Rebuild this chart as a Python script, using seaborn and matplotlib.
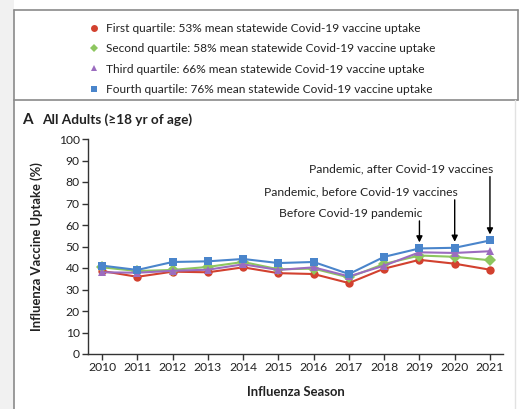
import matplotlib
matplotlib.use("Agg")
import matplotlib.pyplot as plt
import seaborn as sns
import pandas as pd
from matplotlib.lines import Line2D
from matplotlib.patches import Rectangle

FONT = ["Lato", "DejaVu Sans"]
FONT_SIZE_TICKS = 8.7
FONT_SIZE_LEGEND = 8.6
FONT_SIZE_LABEL = 9.4

seasons = list(range(2010, 2022))
first_q = [38.6, 35.9, 38.3, 38.0, 40.3, 37.6, 37.2, 33.0, 39.7, 43.8, 42.0, 39.2]
second_q = [40.3, 38.6, 39.1, 40.5, 42.8, 39.4, 39.7, 35.6, 41.9, 45.8, 45.2, 43.6]
third_q = [38.0, 37.8, 38.7, 39.2, 41.7, 39.1, 40.3, 36.1, 41.1, 47.3, 47.0, 47.8]
fourth_q = [41.1, 39.1, 42.8, 43.1, 44.2, 42.3, 42.8, 37.2, 45.2, 49.1, 49.4, 52.8]

labels = [
    "First quartile: 53% mean statewide Covid-19 vaccine uptake",
    "Second quartile: 58% mean statewide Covid-19 vaccine uptake",
    "Third quartile: 66% mean statewide Covid-19 vaccine uptake",
    "Fourth quartile: 76% mean statewide Covid-19 vaccine uptake",
]
colors = ["#d2412f", "#8dc65f", "#9b6cbf", "#4a85cb"]
markers = ["o", "D", "^", "s"]
marker_sizes = [5, 4, 5, 5]

period_labels = [
    "Before Covid-19 pandemic",
    "Pandemic, before Covid-19 vaccines",
    "Pandemic, after Covid-19 vaccines",
]
period_seasons = [2019, 2020, 2021]

df = pd.DataFrame({
    "season": seasons * 4,
    "uptake": first_q + second_q + third_q + fourth_q,
    "group": [g for g in labels for _ in seasons],
})

sns.set_style("white")
plt.rcParams["font.family"] = FONT

fig = plt.figure(figsize=(5.19, 4.09), dpi=100)
ax = fig.add_axes([88 / 519, 1 - 354 / 409, 415 / 519, 215 / 409])

sns.lineplot(
    data=df, x="season", y="uptake", hue="group", style="group",
    hue_order=labels, style_order=labels,
    palette=colors, markers=markers, dashes=False,
    markersize=6, markeredgewidth=0, linewidth=1.5, legend=False, ax=ax,
)

ax.set_xlim(2009.6, 2021.37)
ax.set_ylim(0, 100)
ax.set_xticks(seasons)
ax.set_yticks(range(0, 101, 10))
for s in ["top", "right"]:
    ax.spines[s].set_visible(False)
for s in ["left", "bottom"]:
    ax.spines[s].set_color("#333333")
    ax.spines[s].set_linewidth(1.0)
ax.tick_params(axis="both", direction="out", length=4, width=1.0, color="#333333",
               labelsize=FONT_SIZE_TICKS, labelcolor="#222222", pad=2,
               left=True, bottom=True)
ax.set_xlabel("Influenza Season", fontsize=FONT_SIZE_LABEL, fontweight="bold",
              labelpad=9, color="#222222")
ax.set_ylabel("Influenza Vaccine Uptake (%)", fontsize=FONT_SIZE_LABEL,
              fontweight="bold", labelpad=11, color="#222222")

# period annotations with down arrows
tops = [max(a, b, c, d) for a, b, c, d in zip(first_q, second_q, third_q, fourth_q)]
text_y = [65.4, 75.2, 86.0]
for lab, yr, ty in zip(period_labels, period_seasons, text_y):
    top = tops[seasons.index(yr)]
    ax.annotate("", xy=(yr, top + 2.8), xytext=(yr, ty - 3.5),
                arrowprops=dict(arrowstyle="-|>", color="black", lw=1.0,
                                mutation_scale=9, shrinkA=0, shrinkB=0))
    ax.text(yr + 0.09, ty, lab, ha="right", va="center",
            fontsize=FONT_SIZE_TICKS, color="#222222")

# legend box at the top
handles = [
    Line2D([], [], linestyle="none", marker=m, color=c, markersize=ms,
           markeredgewidth=0)
    for m, c, ms in zip(markers, colors, marker_sizes)
]
fig.legend(handles, labels, loc="upper left", bbox_to_anchor=(84 / 519, 1 - 17 / 409),
           frameon=False, fontsize=FONT_SIZE_LEGEND, handlelength=0.6,
           handletextpad=0.7, labelspacing=0.78, borderpad=0, labelcolor="#222222")

# panel frame
fig.patches.append(Rectangle((0, 0), 14 / 519, 1, transform=fig.transFigure,
                             facecolor="#f1f1f1", edgecolor="none", zorder=-1))
frame = dict(transform=fig.transFigure, color="#8a8a8a", linewidth=1.2)
fig.add_artist(Line2D([14 / 519, 518 / 519], [1 - 10 / 409] * 2, **frame))
fig.add_artist(Line2D([14 / 519, 518 / 519], [1 - 100 / 409] * 2, **frame))
fig.add_artist(Line2D([14 / 519] * 2, [0, 1 - 10 / 409], **frame))
fig.add_artist(Line2D([518 / 519] * 2, [1 - 100 / 409, 1 - 10 / 409], **frame))
fig.add_artist(Line2D([515 / 519] * 2, [0, 1 - 100 / 409], transform=fig.transFigure,
                      color="#e2e2e2", linewidth=1.0))

# panel title
fig.text(22 / 519, 1 - 120 / 409, "A", fontsize=11, fontweight="bold",
         va="center", color="#222222")
fig.text(42 / 519, 1 - 120 / 409, "All Adults (≥18 yr of age)", fontsize=9.8,
         fontweight="bold", va="center", color="#222222")

fig.savefig("out.png", dpi=100)
